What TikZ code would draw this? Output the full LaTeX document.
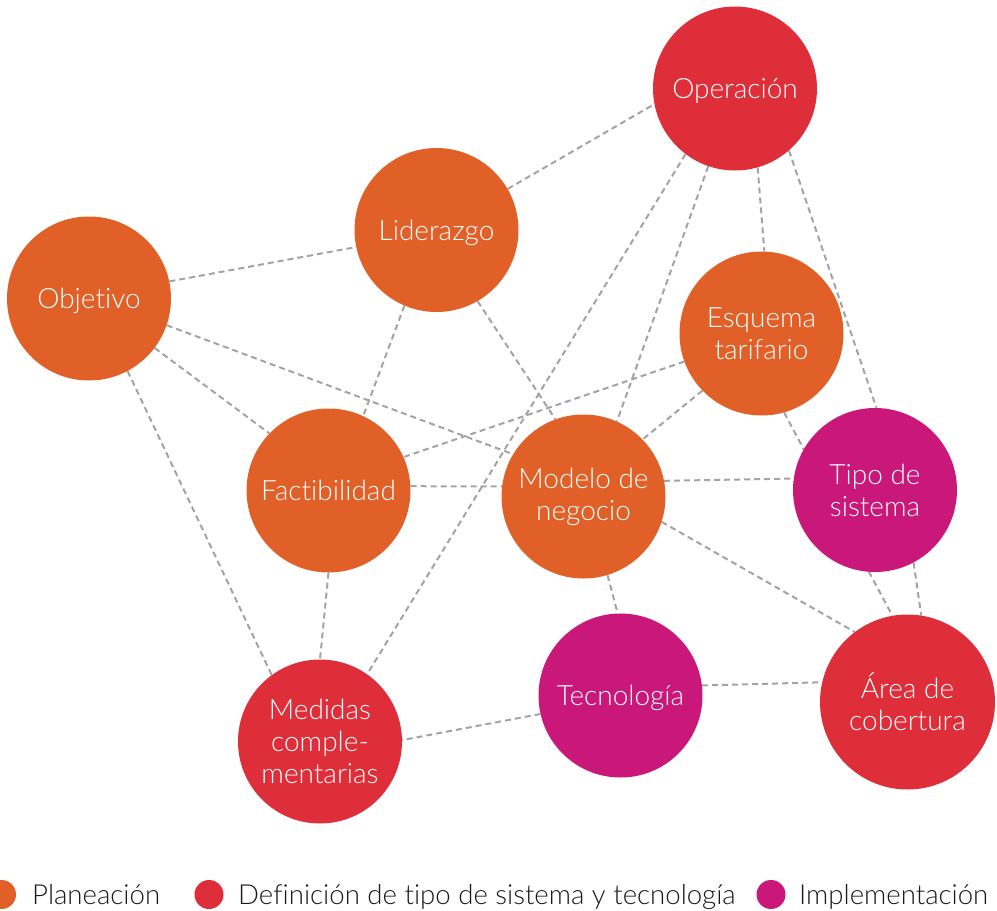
\documentclass[tikz,border=0pt]{standalone}
\usepackage{fontspec}
\setmainfont{Lato}[UprightFont=* Light, Ligatures=NoCommon]
\usetikzlibrary{backgrounds}
\definecolor{plan}{RGB}{224,96,40}
\definecolor{defn}{RGB}{221,46,58}
\definecolor{impl}{RGB}{201,23,122}
\definecolor{linkgray}{RGB}{163,163,163}
\definecolor{legendink}{RGB}{25,25,25}
\begin{document}
\begin{tikzpicture}[x=1pt,y=-1pt,
  bubble/.style={circle, minimum size=164pt, inner sep=0pt, text=white,
    align=center, font=\fontsize{28}{32}\selectfont},
  oneline/.style={text height=20pt, text depth=0pt},
  link/.style={draw=linkgray, line width=2pt, dash pattern=on 6pt off 4pt},
  keydot/.style={circle, minimum size=29pt, inner sep=0pt},
  keytext/.style={anchor=base west, inner sep=0pt, text=legendink,
    font=\fontsize{27.6}{30}\selectfont}]
\useasboundingbox (0,0) rectangle (997,911);

% concept bubbles
\node[bubble, oneline, fill=defn] (op)   at (735,88.5)   {Operación};
\node[bubble, oneline, fill=plan] (lid)  at (436.5,230)  {Liderazgo};
\node[bubble, oneline, fill=plan] (obj)  at (89,298.5)   {Objetivo};
\node[bubble, fill=plan] (esq)  at (761.5,333.5){Esquema\\tarifario};
\node[bubble, oneline, fill=plan] (fac)  at (328.5,490.5){Factibilidad};
\node[bubble, fill=plan] (mod)  at (583.5,496.5){Modelo de\\negocio};
\node[bubble, fill=impl] (tipo) at (875,490)    {Tipo de\\sistema};
\node[bubble, fill=defn] (med)  at (320,741.5)  {Medidas\\comple-\\mentarias};
\node[bubble, oneline, fill=impl] (tec)  at (620.5,695.5){Tecnología};
\node[bubble, fill=defn, minimum size=175pt] (area) at (907.5,702) {Área de\\cobertura};

% dashed relations, kept behind the bubbles
\begin{scope}[on background layer]
\draw[link] (obj.12)   -- (lid.192);
\draw[link] (obj.341)  -- (mod.149);
\draw[link] (obj.323)  -- (fac.136);
\draw[link] (obj.298)  -- (med.126);
\draw[link] (lid.30)   -- (op.191);
\draw[link] (lid.247)  -- (fac.65);
\draw[link] (lid.300)  -- (mod.110);
\draw[link] (op.233)   -- (med.55);
\draw[link] (op.251)   -- (mod.66);
\draw[link] (op.286)   -- (esq.88);
\draw[link] (op.311)   -- (tipo.89);
\draw[link] (esq.200)  -- (fac.24);
\draw[link] (esq.224)  -- (mod.44);
\draw[link] (esq.286)  -- (area.100);
\draw[link] (fac.3)    -- (mod.173);
\draw[link] (fac.270)  -- (med.90);
\draw[link] (mod.11)   -- (tipo.172);
\draw[link] (mod.287)  -- (tec.92);
\draw[link] (mod.342)  -- (area.127);
\draw[link] (tipo.298) -- (area.81);
\draw[link] (tec.7)    -- (area.167);
\draw[link] (tec.193)  -- (med.1);
\end{scope}

% legend
\node[keydot, fill=plan] (k1) at (1.5,894.5) {};
\node[keytext] (t1) at (32,904) {Planeación};
\node[keydot, fill=defn] (k2) at (209,894.5) {};
\node[keytext] (t2) at (238,904) {Definición de tipo de sistema y tecnología};
\node[keydot, fill=impl] (k3) at (771,894.5) {};
\node[keytext] (t3) at (799,904) {Implementación};
\end{tikzpicture}
\end{document}
